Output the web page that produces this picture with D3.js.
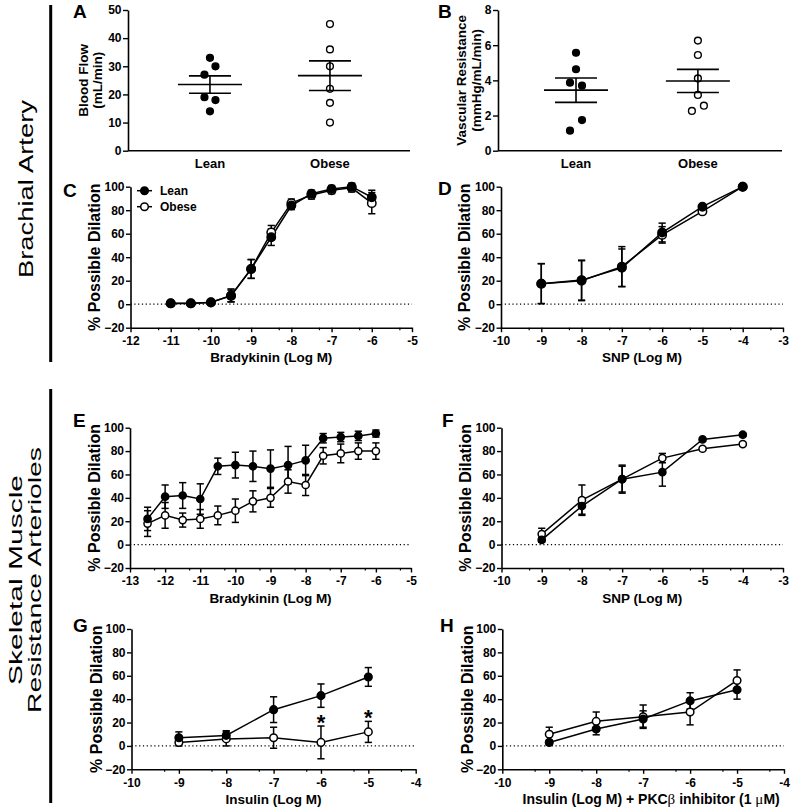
<!DOCTYPE html>
<html>
<head>
<meta charset="utf-8">
<script src="https://cdn.jsdelivr.net/npm/d3@7"></script>
<style>
  body { margin: 0; background: #fff; }
  svg text { font-family: "Liberation Sans", Arial, Helvetica, sans-serif; fill: #000; }
</style>
</head>
<body>
<svg id="fig" width="791" height="808"></svg>
<script>
// ---------------- data ----------------
var groups = ["Lean", "Obese"];

// A: brachial artery blood flow (mL/min)
var flowLean  = [33, 30, 27, 19, 18, 14];
var flowObese = [45, 36, 30, 22, 17, 10];
var flowLeanSlot  = [0, 1, -1, -1, 1, 0];   // column of the point in the scatter
var flowObeseSlot = [0, 0, 0, 0, 0, 0];
var flowTicks = [0, 10, 20, 30, 40, 50];

// B: vascular resistance (mmHg/mL/min)
var resLean  = [5.57, 4.63, 3.87, 3.70, 1.74, 1.14];
var resObese = [6.26, 5.44, 4.11, 3.17, 2.56, 2.26];
var resLeanSlot  = [0, 0, -1, 1, 1, -1];
var resObeseSlot = [0, 0, 0, 0, 1, -1];
var resTicks = [0, 2, 4, 6, 8];

var dilationTicks = [-20, 0, 20, 40, 60, 80, 100];

// C: brachial, bradykinin
var doseC = [-11, -10.5, -10, -9.5, -9, -8.5, -8, -7.5, -7, -6.5, -6];
var leanC     = [0.7, 0.7, 1.6, 7, 30, 57, 84, 94, 98, 100, 91];
var leanSemC  = [0.8, 0.8, 1, 5, 8, 7, 3.5, 3, 3, 3, 6];
var obeseC    = [0.8, 0.8, 1.5, 7.5, 30, 61, 86, 93, 97, 99, 86];
var obeseSemC = [0.8, 0.8, 1, 5.5, 8, 6, 3.5, 3.5, 3, 3.5, 9];

// D: brachial, SNP
var doseD = [-9, -8, -7, -6, -5, -4];
var leanD     = [17.5, 20.5, 31, 61, 83, 100];
var leanSemD  = [17, 17, 16, 8, 1, 0.5];
var obeseD    = [17.5, 20, 32, 59, 79, 100];
var obeseSemD = [17, 17, 17, 7, 1, 0.5];

// E: arterioles, bradykinin
var doseE = [-12.5, -12, -11.5, -11, -10.5, -10, -9.5, -9, -8.5, -8, -7.5, -7, -6.5, -6];
var leanE     = [22, 41, 42, 39, 67, 68, 67, 65, 68, 72, 91, 92, 93, 95];
var leanSemE  = [10, 10, 11, 13, 7, 11, 13, 16, 16, 13, 4, 4, 4, 3];
var obeseE    = [18, 25, 21, 22, 25, 29, 37, 40, 54, 51, 76, 78, 80, 80];
var obeseSemE = [11, 11, 6, 8, 8, 10, 9, 8, 10, 9, 7, 8, 7, 7];

// F: arterioles, SNP
var doseF = [-9, -8, -7, -6, -5, -4];
var leanF     = [4, 33, 56, 62, 90, 94];
var leanSemF  = [2, 7, 12, 12, 1.5, 1.5];
var obeseF    = [9, 38, 56, 74, 82, 86];
var obeseSemF = [5, 13, 11, 4, 1.5, 1.5];

// G: arterioles, insulin
var doseG = [-9, -8, -7, -6, -5];
var leanG     = [7, 9, 31, 43, 59];
var leanSemG  = [5, 4, 11, 10, 8];
var obeseG    = [3, 6, 7, 3, 12];
var obeseSemG = [3, 6, 9, 14, 9];
var starsG = [-6, -5];

// H: arterioles, insulin + PKCbeta inhibitor
var doseH = [-9, -8, -7, -6, -5];
var leanH     = [3, 14.5, 23, 38.5, 48];
var leanSemH  = [2, 5, 7, 7, 8];
var obeseH    = [10, 21, 25, 29, 56];
var obeseSemH = [6, 8, 10, 11, 9];

// ---------------- drawing ----------------
var svg = d3.select("#fig");
var FONT = '"Liberation Sans", Arial, Helvetica, sans-serif';

function styleAxis(a, size) {
  a.attr("font-family", FONT).attr("font-size", size).attr("font-weight", "bold");
  a.select(".domain").attr("stroke", "#000").attr("stroke-width", 1.6);
  a.selectAll(".tick line").attr("stroke", "#000").attr("stroke-width", 1.4);
  a.selectAll(".tick text").attr("fill", "#000");
}

function panelLetter(t, x, y) {
  svg.append("text").attr("x", x).attr("y", y)
    .attr("font-size", 19).attr("font-weight", "bold").text(t);
}

function yTitle(g, lines, cy, size) {
  lines.forEach(function(l) {
    g.append("text")
      .attr("transform", "translate(" + l.x + "," + cy + ") rotate(-90)")
      .attr("text-anchor", "middle")
      .attr("font-size", size).attr("font-weight", "bold")
      .text(l.t);
  });
}

function scatterPanel(p) {
  var g = svg.append("g");
  var x = d3.scaleLinear().domain(p.xDomain).range(p.xRange);
  var y = d3.scaleLinear().domain(p.yDomain).range(p.yRange);

  var ya = g.append("g").attr("transform", "translate(" + p.xRange[0] + ",0)")
    .call(d3.axisLeft(y).tickValues(p.ticks).tickSize(5).tickPadding(1.5).tickSizeOuter(0));
  styleAxis(ya, 12);
  g.append("line")
    .attr("x1", p.xRange[0]).attr("x2", p.xRange[1])
    .attr("y1", y(p.yDomain[0])).attr("y2", y(p.yDomain[0]))
    .attr("stroke", "#000").attr("stroke-width", 1.6);

  groups.forEach(function(name, gi) {
    var vals = p.values[gi], slots = p.slots[gi];
    var cx = x(gi + 1);
    var m = d3.mean(vals), sem = d3.deviation(vals) / Math.sqrt(vals.length);

    g.selectAll(null).data(vals).join("circle")
      .attr("cx", function(d, i) { return cx + slots[i] * p.slotW; })
      .attr("cy", function(d) { return y(d); })
      .attr("r", 3.4)
      .attr("fill", gi ? "#fff" : "#000")
      .attr("stroke", "#000").attr("stroke-width", 1.4);

    g.append("line").attr("x1", cx - 32).attr("x2", cx + 32)
      .attr("y1", y(m)).attr("y2", y(m))
      .attr("stroke", "#000").attr("stroke-width", 1.6);
    g.append("line").attr("x1", cx).attr("x2", cx)
      .attr("y1", y(m - sem)).attr("y2", y(m + sem))
      .attr("stroke", "#000").attr("stroke-width", 1.6);
    [m - sem, m + sem].forEach(function(v) {
      g.append("line").attr("x1", cx - 21).attr("x2", cx + 21)
        .attr("y1", y(v)).attr("y2", y(v))
        .attr("stroke", "#000").attr("stroke-width", 1.6);
    });

    g.append("text").attr("x", cx).attr("y", y(p.yDomain[0]) + 17.6)
      .attr("text-anchor", "middle").attr("font-size", 13).attr("font-weight", "bold")
      .text(name);
  });

  yTitle(g, p.yTitle, (p.yRange[0] + p.yRange[1]) / 2, 13.5);
  panelLetter(p.letter, p.letterPos[0], p.letterPos[1]);
}

function linePanel(p) {
  var g = svg.append("g");
  var x = d3.scaleLinear().domain(p.xDomain).range(p.xRange);
  var y = d3.scaleLinear().domain([-20, 100]).range(p.yRange);
  var yb = p.yRange[0];

  // dotted zero line
  g.append("line")
    .attr("x1", p.xRange[0]).attr("x2", p.xRange[1])
    .attr("y1", y(0)).attr("y2", y(0))
    .attr("stroke", "#000").attr("stroke-width", 1.2)
    .attr("stroke-dasharray", "1.2,2.6");

  var ya = g.append("g").attr("transform", "translate(" + p.xRange[0] + ",0)")
    .call(d3.axisLeft(y).tickValues(dilationTicks).tickSize(4.5).tickPadding(1.5).tickSizeOuter(0));
  styleAxis(ya, 12);

  var majors = d3.range(p.xDomain[0], p.xDomain[1] + 1);
  var xa = g.append("g").attr("transform", "translate(0," + yb + ")")
    .call(d3.axisBottom(x).tickValues(majors).tickSize(4.5).tickPadding(4.3).tickSizeOuter(0)
      .tickFormat(function(d) { return String(d); }));
  styleAxis(xa, 12);

  // minor ticks (log position of 5 within each decade)
  var minors = d3.range(p.xDomain[0], p.xDomain[1]).map(function(n) { return n + Math.log10(5); });
  g.selectAll(null).data(minors).join("line")
    .attr("x1", function(d) { return x(d); }).attr("x2", function(d) { return x(d); })
    .attr("y1", yb).attr("y2", yb + 2.5)
    .attr("stroke", "#000").attr("stroke-width", 1.2);

  var series = [
    { vals: p.obese, sem: p.obeseSem, fill: "#fff" },
    { vals: p.lean, sem: p.leanSem, fill: "#000" }
  ];
  var line = d3.line()
    .x(function(d, i) { return x(p.dose[i]); })
    .y(function(d) { return y(d); });

  series.forEach(function(s) {
    s.vals.forEach(function(v, i) {
      var cx = x(p.dose[i]);
      var lo = y(v - s.sem[i]), hi = y(v + s.sem[i]);
      g.append("line").attr("x1", cx).attr("x2", cx).attr("y1", lo).attr("y2", hi)
        .attr("stroke", "#000").attr("stroke-width", 1.5);
      [lo, hi].forEach(function(yy) {
        g.append("line").attr("x1", cx - 3.6).attr("x2", cx + 3.6).attr("y1", yy).attr("y2", yy)
          .attr("stroke", "#000").attr("stroke-width", 1.5);
      });
    });
  });
  series.forEach(function(s) {
    g.append("path").datum(s.vals).attr("d", line)
      .attr("fill", "none").attr("stroke", "#000").attr("stroke-width", 1.5);
  });
  series.forEach(function(s) {
    g.selectAll(null).data(s.vals).join("circle")
      .attr("cx", function(d, i) { return x(p.dose[i]); })
      .attr("cy", function(d) { return y(d); })
      .attr("r", p.r)
      .attr("fill", s.fill).attr("stroke", "#000").attr("stroke-width", 1.5);
  });

  if (p.stars) {
    p.stars.forEach(function(dose) {
      var i = p.dose.indexOf(dose);
      g.append("text").attr("x", x(dose)).attr("y", y(p.obese[i] + p.obeseSem[i]) + 4)
        .attr("text-anchor", "middle").attr("font-size", 22).attr("font-weight", "bold")
        .text("*");
    });
  }

  if (p.legend) {
    groups.forEach(function(name, gi) {
      var ly = p.legend[1] + gi * 16;
      g.append("line").attr("x1", p.legend[0]).attr("x2", p.legend[0] + 15)
        .attr("y1", ly).attr("y2", ly).attr("stroke", "#000").attr("stroke-width", 1.5);
      g.append("circle").attr("cx", p.legend[0] + 7.5).attr("cy", ly).attr("r", 3.8)
        .attr("fill", gi ? "#fff" : "#000").attr("stroke", "#000").attr("stroke-width", 1.5);
      g.append("text").attr("x", p.legend[0] + 23).attr("y", ly + 4.3)
        .attr("font-size", 12).attr("font-weight", "bold").text(name);
    });
  }

  // axis titles
  var xt = g.append("text")
    .attr("x", (p.xRange[0] + p.xRange[1]) / 2 + (p.xTitleShift || 0)).attr("y", yb + 34.6)
    .attr("text-anchor", "middle").attr("font-size", p.xTitleSize || 13.5).attr("font-weight", "bold");
  p.xTitle.forEach(function(part) {
    var ts = xt.append("tspan").text(part.t);
    if (part.sym) ts.attr("font-family", '"Liberation Serif", "DejaVu Serif", serif').attr("font-weight", "normal").attr("font-size", 15);
  });
  yTitle(g, [{ x: p.yTitleX, t: "% Possible Dilation" }], (p.yRange[0] + p.yRange[1]) / 2, 16);
  panelLetter(p.letter, p.letterPos[0], p.letterPos[1]);
}

// section labels and bars
function sectionLabel(lines, cy, size) {
  lines.forEach(function(l) {
    svg.append("text")
      .attr("transform", "translate(" + l.x + "," + cy + ") rotate(-90)")
      .attr("text-anchor", "middle").attr("font-size", size)
      .attr("textLength", l.len).attr("lengthAdjust", "spacingAndGlyphs")
      .text(l.t);
  });
}
svg.append("line").attr("x1", 50.7).attr("x2", 50.7).attr("y1", 5).attr("y2", 362)
  .attr("stroke", "#000").attr("stroke-width", 3);
svg.append("line").attr("x1", 50.7).attr("x2", 50.7).attr("y1", 389).attr("y2", 803)
  .attr("stroke", "#000").attr("stroke-width", 3);
sectionLabel([{ x: 33, t: "Brachial Artery", len: 178 }], 189, 20);
sectionLabel([{ x: 22, t: "Skeletal Muscle", len: 210 }, { x: 40.5, t: "Resistance Arterioles", len: 266 }], 580, 19);

scatterPanel({
  values: [flowLean, flowObese], slots: [flowLeanSlot, flowObeseSlot], slotW: 5.5,
  xDomain: [0.317, 2.667], xRange: [128, 410], yDomain: [0, 50], yRange: [150.7, 10],
  ticks: flowTicks, letter: "A", letterPos: [73, 18],
  yTitle: [{ x: 88, t: "Blood Flow" }, { x: 102, t: "(mL/min)" }]
});
scatterPanel({
  values: [resLean, resObese], slots: [resLeanSlot, resObeseSlot], slotW: 6,
  xDomain: [0.36, 2.69], xRange: [498, 782], yDomain: [0, 8], yRange: [150.7, 10],
  ticks: resTicks, letter: "B", letterPos: [438, 18],
  yTitle: [{ x: 466, t: "Vascular Resistance" }, { x: 481, t: "(mmHg/mL/min)" }]
});

linePanel({
  dose: doseC, lean: leanC, leanSem: leanSemC, obese: obeseC, obeseSem: obeseSemC, r: 4.2,
  xDomain: [-12, -5], xRange: [130.5, 412], yRange: [327.7, 186.7],
  xTitle: [{ t: "Bradykinin (Log M)" }], yTitleX: 100, letter: "C", letterPos: [63, 197],
  legend: [137, 190.7]
});
linePanel({
  dose: doseD, lean: leanD, leanSem: leanSemD, obese: obeseD, obeseSem: obeseSemD, r: 4.2,
  xDomain: [-10, -3], xRange: [501, 783], yRange: [327.7, 186.7],
  xTitle: [{ t: "SNP (Log M)" }], yTitleX: 470, letter: "D", letterPos: [438, 195]
});
linePanel({
  dose: doseE, lean: leanE, leanSem: leanSemE, obese: obeseE, obeseSem: obeseSemE, r: 3.6,
  xDomain: [-13, -5], xRange: [130, 411], yRange: [568, 427.7],
  xTitle: [{ t: "Bradykinin (Log M)" }], yTitleX: 100, letter: "E", letterPos: [73, 427]
});
linePanel({
  dose: doseF, lean: leanF, leanSem: leanSemF, obese: obeseF, obeseSem: obeseSemF, r: 3.6,
  xDomain: [-10, -3], xRange: [501.5, 783], yRange: [568, 427.7],
  xTitle: [{ t: "SNP (Log M)" }], yTitleX: 471, letter: "F", letterPos: [442, 427]
});
linePanel({
  dose: doseG, lean: leanG, leanSem: leanSemG, obese: obeseG, obeseSem: obeseSemG, r: 3.8,
  xDomain: [-10, -4], xRange: [131.5, 415.7], yRange: [769.3, 629],
  xTitle: [{ t: "Insulin (Log M)" }], yTitleX: 102, letter: "G", letterPos: [73, 632],
  stars: starsG
});
linePanel({
  dose: doseH, lean: leanH, leanSem: leanSemH, obese: obeseH, obeseSem: obeseSemH, r: 3.8,
  xDomain: [-10, -4], xRange: [502.3, 784], yRange: [769.3, 629],
  xTitle: [{ t: "Insulin (Log M) + PKC" }, { t: "\u03b2", sym: true }, { t: " inhibitor (1 " }, { t: "\u03bc", sym: true }, { t: "M)" }],
  xTitleSize: 14, xTitleShift: 8,
  yTitleX: 473, letter: "H", letterPos: [440, 632]
});
</script>
</body>
</html>
